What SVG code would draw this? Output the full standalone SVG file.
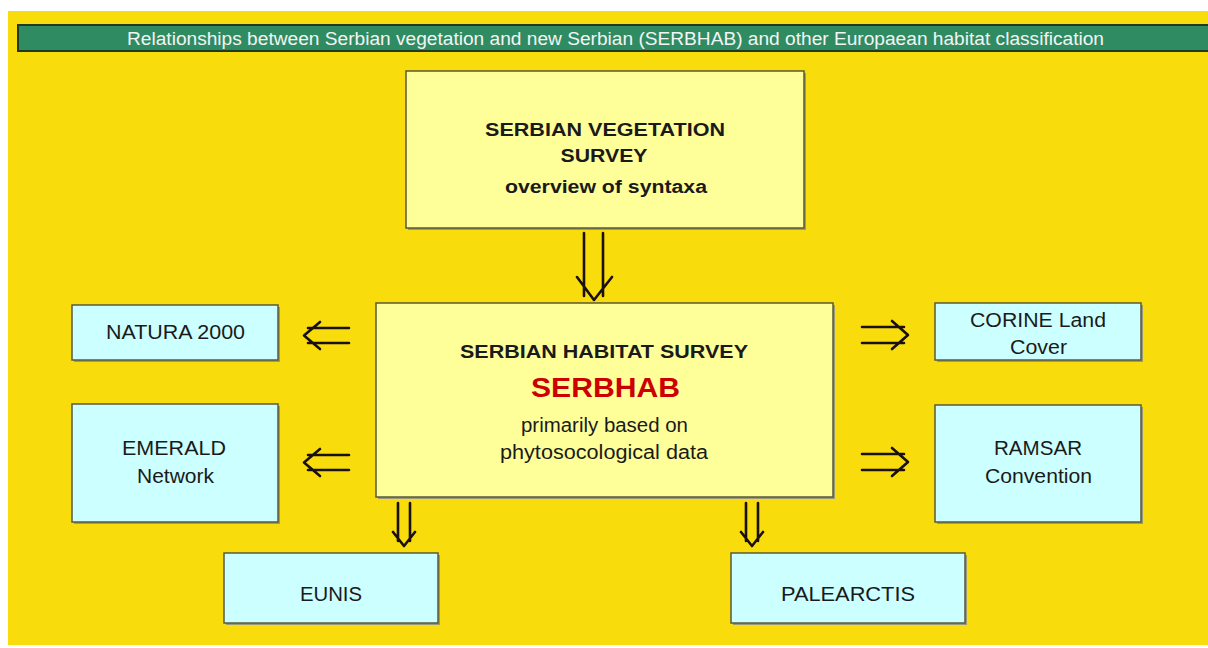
<svg xmlns="http://www.w3.org/2000/svg" width="1208" height="648" viewBox="0 0 1208 648">
<defs>
<style>
.bg{fill:#f9dc0c}
.shadow{fill:#9a9a7a}
.yel{fill:#ffff99;stroke:#5a5a3a;stroke-width:1.5}
.cyan{fill:#ccffff;stroke:#5a5a3a;stroke-width:1.5}
.t{font-family:"Liberation Sans",Arial,sans-serif;fill:#1a1a1a;text-anchor:middle}
.b{font-weight:bold}
.reg{font-size:20px}
.arr{fill:none;stroke:#1a1010;stroke-width:2.6;stroke-linecap:round;stroke-linejoin:round}
</style>
</defs>
<rect x="0" y="0" width="1208" height="648" fill="#ffffff"/>
<rect class="bg" x="8" y="11" width="1200" height="634"/>
<g id="banner">
<rect x="18" y="25" width="1192" height="26" fill="#2f8c62" stroke="#1e3a20" stroke-width="2"/>
<text class="t" x="615.5" y="45" font-size="18" style="fill:#f4f4f4" textLength="977" lengthAdjust="spacingAndGlyphs">Relationships between Serbian vegetation and new Serbian (SERBHAB) and other Europaean habitat classification</text>
</g>
<g id="vegetation">
<rect class="shadow" x="408" y="73" width="398" height="157"/>
<rect class="yel" x="406" y="71" width="398" height="157"/>
<text class="t b" x="605" y="136" font-size="18.5" textLength="240" lengthAdjust="spacingAndGlyphs">SERBIAN VEGETATION</text>
<text class="t b" x="604" y="162" font-size="18.5" textLength="87" lengthAdjust="spacingAndGlyphs">SURVEY</text>
<text class="t b" x="606" y="193" font-size="17.5" textLength="202" lengthAdjust="spacingAndGlyphs">overview of syntaxa</text>
</g>
<g id="habitat">
<rect class="shadow" x="378" y="305" width="457" height="194"/>
<rect class="yel" x="376" y="303" width="457" height="194"/>
<text class="t b" x="604" y="358" font-size="18.5" textLength="288" lengthAdjust="spacingAndGlyphs">SERBIAN HABITAT SURVEY</text>
<text class="t b" x="605.5" y="397" font-size="27" style="fill:#cc0000" textLength="149" lengthAdjust="spacingAndGlyphs">SERBHAB</text>
<text class="t reg" x="604.5" y="432" textLength="167" lengthAdjust="spacingAndGlyphs">primarily based on</text>
<text class="t reg" x="604" y="459" textLength="208" lengthAdjust="spacingAndGlyphs">phytosocological data</text>
</g>
<g id="natura">
<rect class="shadow" x="74" y="307" width="206" height="55"/>
<rect class="cyan" x="72" y="305" width="206" height="55"/>
<text class="t reg" x="175.5" y="339" textLength="139" lengthAdjust="spacingAndGlyphs">NATURA 2000</text>
</g>
<g id="emerald">
<rect class="shadow" x="74" y="406" width="206" height="118"/>
<rect class="cyan" x="72" y="404" width="206" height="118"/>
<text class="t reg" x="174" y="455" textLength="104" lengthAdjust="spacingAndGlyphs">EMERALD</text>
<text class="t reg" x="175.5" y="483" textLength="77" lengthAdjust="spacingAndGlyphs">Network</text>
</g>
<g id="corine">
<rect class="shadow" x="937" y="305" width="206" height="57"/>
<rect class="cyan" x="935" y="303" width="206" height="57"/>
<text class="t reg" x="1038" y="327" textLength="136" lengthAdjust="spacingAndGlyphs">CORINE Land</text>
<text class="t reg" x="1038.5" y="354" textLength="57" lengthAdjust="spacingAndGlyphs">Cover</text>
</g>
<g id="ramsar">
<rect class="shadow" x="937" y="407" width="206" height="117"/>
<rect class="cyan" x="935" y="405" width="206" height="117"/>
<text class="t reg" x="1038" y="455" textLength="88" lengthAdjust="spacingAndGlyphs">RAMSAR</text>
<text class="t reg" x="1038.5" y="483" textLength="107" lengthAdjust="spacingAndGlyphs">Convention</text>
</g>
<g id="eunis">
<rect class="shadow" x="226" y="555" width="214" height="70"/>
<rect class="cyan" x="224" y="553" width="214" height="70"/>
<text class="t reg" x="331" y="601" textLength="62" lengthAdjust="spacingAndGlyphs">EUNIS</text>
</g>
<g id="palearctis">
<rect class="shadow" x="733" y="555" width="234" height="70"/>
<rect class="cyan" x="731" y="553" width="234" height="70"/>
<text class="t reg" x="848" y="601" textLength="134" lengthAdjust="spacingAndGlyphs">PALEARCTIS</text>
</g>
<g id="connectors">
<path class="arr" d="M584 233V296M603 233V296M577 277L594 300L612 277"/>
<path class="arr" d="M308 328H349M308 343H349M320 322L304 335.5L320 349"/>
<path class="arr" d="M308 455H349M308 470H349M320 449L304 462.5L320 476"/>
<path class="arr" d="M862 327H904M862 343H904M892 321L908 335L892 349"/>
<path class="arr" d="M862 454H904M862 470H904M892 448L908 462L892 476"/>
<path class="arr" d="M398 503V541M410 503V541M393 532L404 546L415 532"/>
<path class="arr" d="M746 503V541M758 503V541M741 532L752 546L763 532"/>
</g>
</svg>
